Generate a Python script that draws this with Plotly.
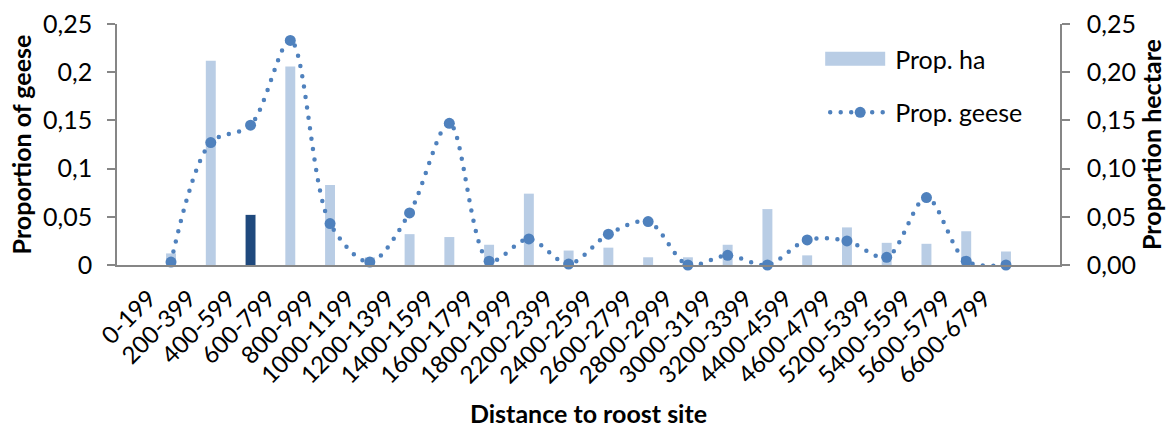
import plotly.graph_objects as go

# Distance classes (m) from the roost
categories = ["0-199", "200-399", "400-599", "600-799", "800-999", "1000-1199",
              "1200-1399", "1400-1599", "1600-1799", "1800-1999", "2200-2399",
              "2400-2599", "2600-2799", "2800-2999", "3000-3199", "3200-3399",
              "4400-4599", "4600-4799", "5200-5399", "5400-5599", "5600-5799",
              "6600-6799"]

# Proportion of available hectares per distance class
prop_ha = [0.012, 0.212, 0.052, 0.206, 0.083, 0.008, 0.032, 0.029, 0.021, 0.074,
           0.015, 0.018, 0.008, 0.008, 0.021, 0.058, 0.010, 0.039, 0.023, 0.022,
           0.035, 0.014]

# Proportion of geese per distance class
prop_geese = [0.003, 0.127, 0.145, 0.233, 0.043, 0.003, 0.054, 0.147, 0.004, 0.027,
              0.001, 0.032, 0.045, 0.000, 0.010, 0.000, 0.026, 0.025, 0.008, 0.070,
              0.004, 0.000]

left_ticks = [0, 0.05, 0.1, 0.15, 0.2, 0.25]
left_labels = ["0", "0,05", "0,1", "0,15", "0,2", "0,25"]
right_labels = ["0,00", "0,05", "0,10", "0,15", "0,20", "0,25"]

LIGHT = "#B9CDE5"
DARK = "#1F497D"
LINE = "#4F81BD"
AXIS = "#868686"
FONT = "Lato"
TICK_SIZE = 25
TITLE_SIZE = 25

bar_colors = [DARK if c == "400-599" else LIGHT for c in categories]

fig = go.Figure()
fig.add_trace(go.Bar(
    x=categories, y=prop_ha, name="Prop. ha",
    marker=dict(color=bar_colors, line=dict(width=0)),
    width=0.25, yaxis="y", legendgroup="a",
))
fig.add_trace(go.Scatter(
    x=categories, y=prop_geese, name="Prop. geese",
    mode="lines+markers",
    line=dict(color=LINE, width=4.5, dash="dot", shape="spline", smoothing=0.9),
    marker=dict(color=LINE, size=11),
    yaxis="y2", cliponaxis=False, legendgroup="b",
))

axis_common = dict(
    range=[0, 0.25], tickvals=left_ticks, showgrid=False, zeroline=False,
    showline=True, linecolor=AXIS, linewidth=1.5, ticks="outside",
    ticklen=8, tickcolor=AXIS, tickwidth=1.5,
    tickfont=dict(family=FONT, size=TICK_SIZE, color="#000000"),
)

fig.update_layout(
    width=1173, height=430,
    margin=dict(l=117, r=113, t=24, b=165, autoexpand=False),
    paper_bgcolor="white", plot_bgcolor="white",
    font=dict(family=FONT, color="#000000"),
    xaxis=dict(
        showgrid=False, showline=True, linecolor=AXIS, linewidth=1.5,
        ticks="", tickangle=-45, ticklabelstandoff=8, ticklabelshift=-22,
        tickfont=dict(family=FONT, size=24, color="#000000"),
        title=dict(text="<b>Distance to roost site</b>",
                   font=dict(family=FONT, size=TITLE_SIZE, color="#000000"), standoff=18),
        automargin=False,
    ),
    yaxis=dict(
        **axis_common, ticktext=left_labels, side="left", ticklabelstandoff=10,
        title=dict(text="<b>Proportion of geese</b>",
                   font=dict(family=FONT, size=TITLE_SIZE, color="#000000"), standoff=4),
        automargin=False,
    ),
    yaxis2=dict(
        **axis_common, ticktext=right_labels, side="right", overlaying="y",
        ticklabelstandoff=12,
        title=dict(text="<b>Proportion hectare</b>",
                   font=dict(family=FONT, size=TITLE_SIZE, color="#000000"), standoff=8),
        automargin=False,
    ),
    legend=dict(
        x=0.751, y=0.95, xanchor="left", yanchor="top",
        bgcolor="rgba(0,0,0,0)", borderwidth=0,
        font=dict(family=FONT, size=TICK_SIZE, color="#000000"),
        traceorder="grouped", tracegroupgap=18, itemwidth=60,
    ),
    showlegend=True,
)

# Round dotted line for the goose series, wide swatch for the hectare bars
post = """
var gd = document.getElementById('{plot_id}');
gd.querySelectorAll('.scatterlayer .js-line, .legendlines path').forEach(function(p){
  p.style.strokeLinecap = 'round';
  p.style.strokeDasharray = '0px,10.5px';
});
gd.querySelectorAll('.legend .legendpoints path').forEach(function(p){
  if (p.closest('.legendbar') || p.classList.contains('legendundefined')) {
    p.setAttribute('d', 'M25,7H-44V-7H25Z');
  }
});
"""

fig.write_html("out.html", post_script=post)
